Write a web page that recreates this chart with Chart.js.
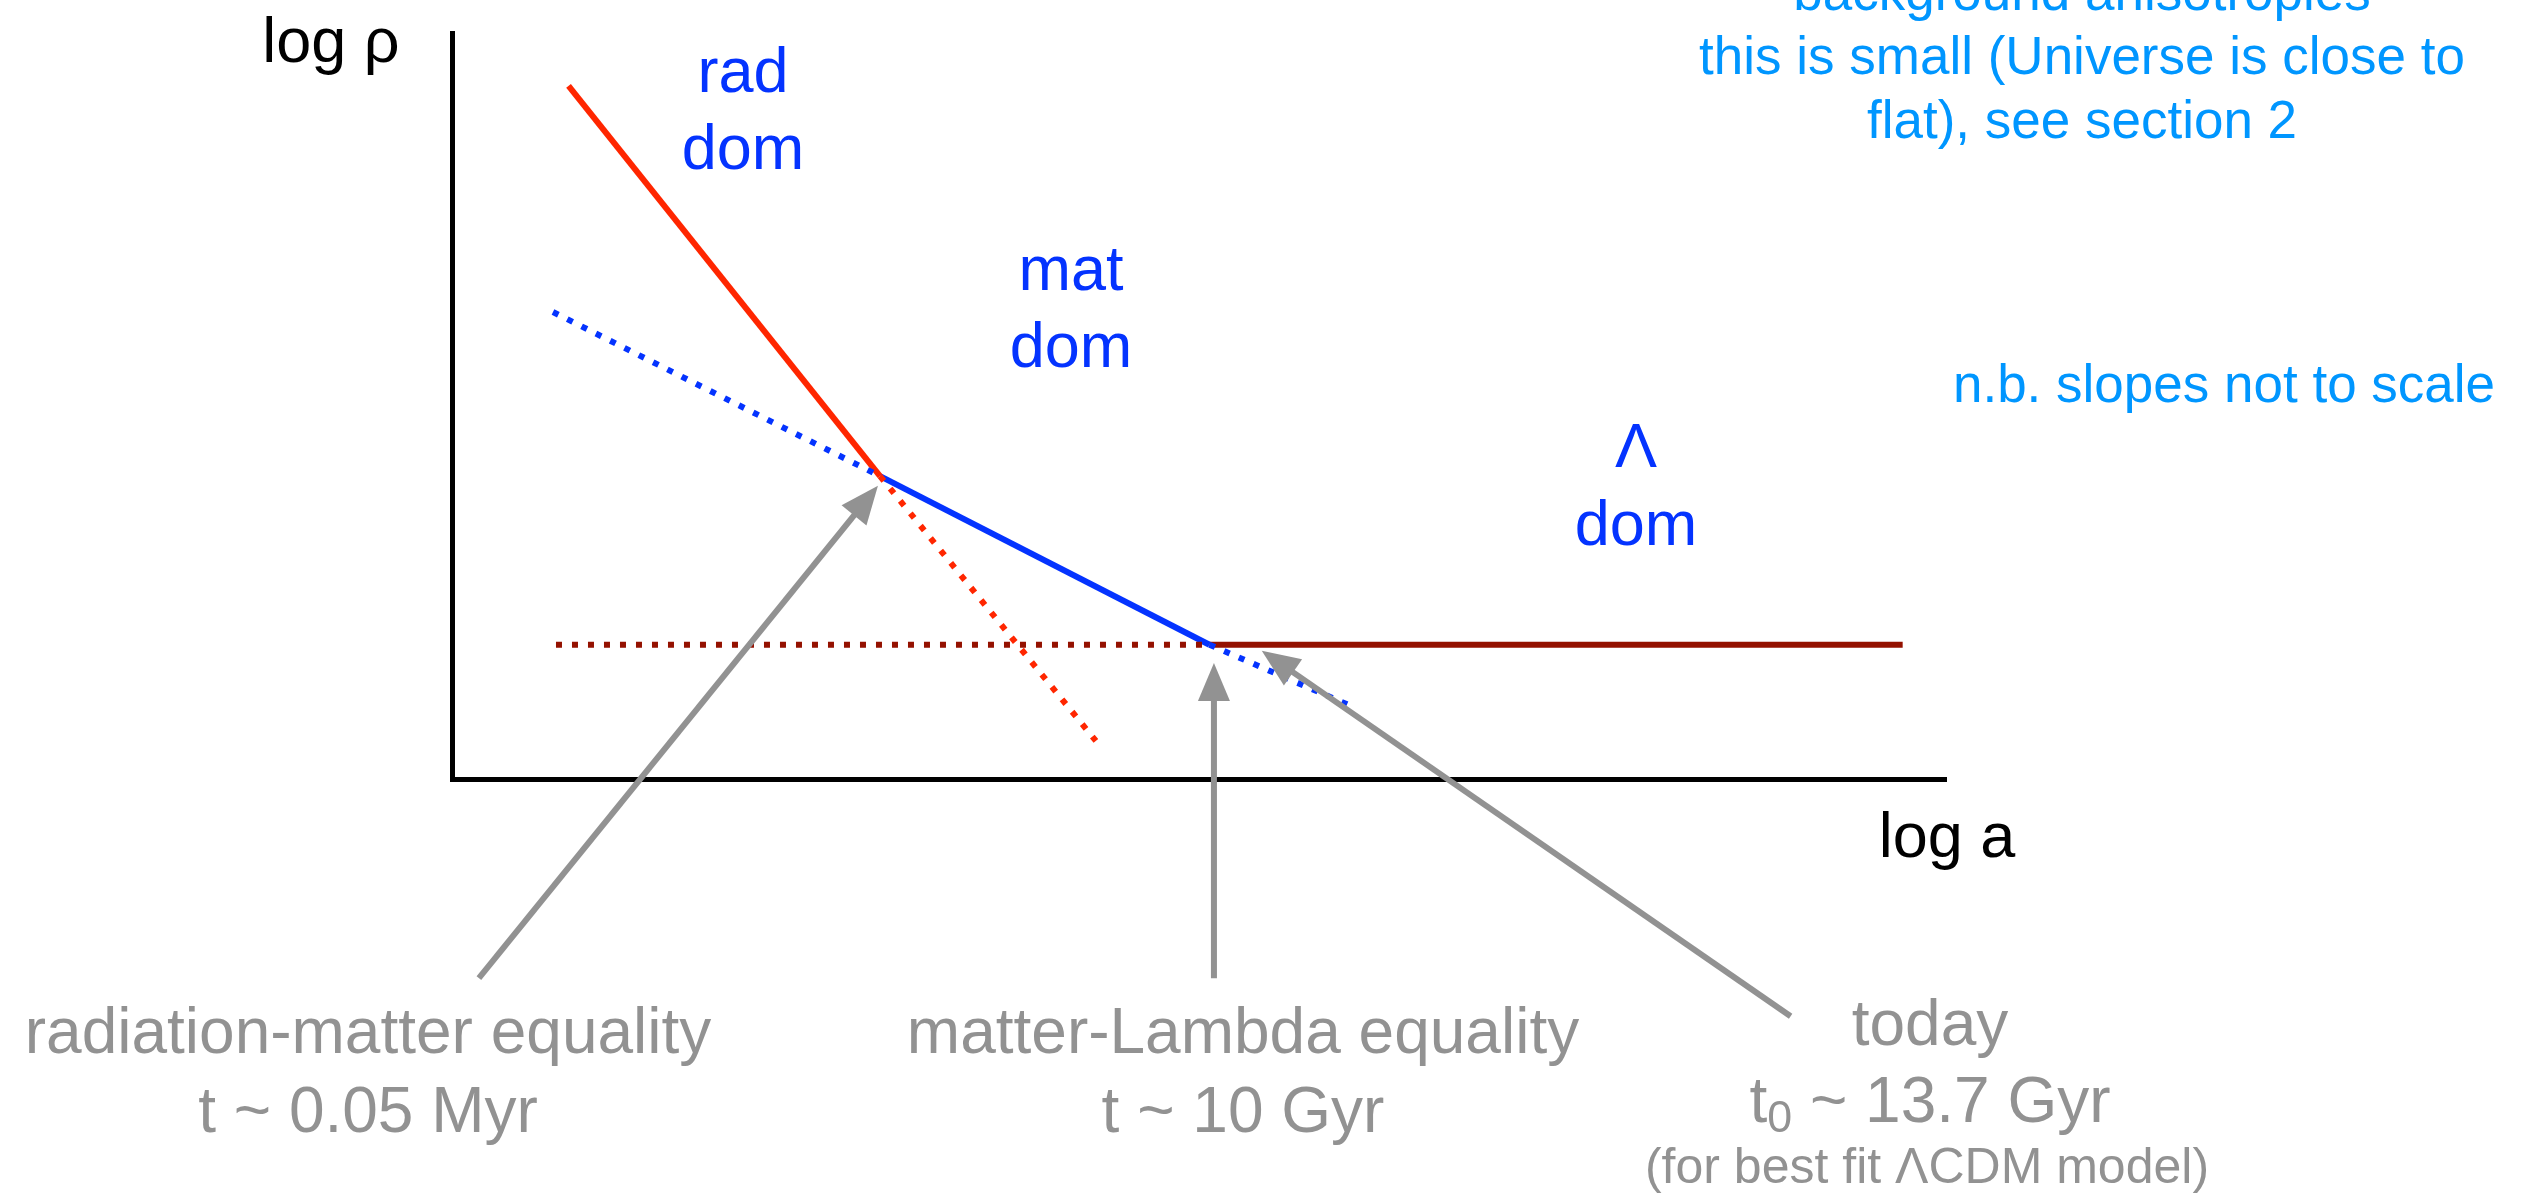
<!DOCTYPE html>
<html>
<head>
<meta charset="utf-8">
<title>log ρ vs log a</title>
<script src="https://cdn.jsdelivr.net/npm/chart.js@4.4.1/dist/chart.umd.min.js"></script>
<style>
  html, body { margin: 0; padding: 0; background: #fff; }
  canvas { display: block; }
</style>
</head>
<body>
<canvas id="chart" width="2536" height="1197"></canvas>
<script>
/* DATOS (unidades arbitrarias, log a / log rho) */
// radiacion: pendiente mas fuerte
const radX = [0.78, 2.865];
const radY = [9.29, 4.06];
const radExtX = [2.865, 4.31];
const radExtY = [4.06, 0.51];

// materia
const matBackX = [0.676, 2.865];
const matBackY = [6.26, 4.06];
const matX = [2.865, 5.07];
const matY = [4.06, 1.80];
const matExtX = [5.07, 6.05];
const matExtY = [1.80, 0.95];

// lambda: constante
const lamBackX = [0.696, 5.07];
const lamBackY = [1.80, 1.80];
const lamX = [5.07, 9.71];
const lamY = [1.80, 1.80];

// flechas (cola -> punta)
const arrowFromX = [0.18, 5.10, 8.96];
const arrowFromY = [-2.67, -2.67, -3.18];
const arrowToX = [2.851, 5.10, 5.42];
const arrowToY = [3.93, 1.555, 1.72];

const BLUE = "#0433ff";
const RED = "#ff2600";
const DARKRED = "#941100";
const GREY = "#929292";
const LIGHTBLUE = "#0096ff";
const FONT = "'Liberation Sans', Arial, Helvetica, sans-serif";

function pts(xs, ys) {
  return xs.map((x, i) => ({ x, y: ys[i] }));
}

function seg(xs, ys, color, dotted) {
  return {
    data: pts(xs, ys),
    borderColor: color,
    borderWidth: 6,
    borderDash: dotted ? [6, 10] : [],
    borderCapStyle: "butt",
    pointRadius: 0,
    tension: 0,
    fill: false,
    clip: false
  };
}

/* FLECHAS */
const arrowPlugin = {
  id: "arrows",
  afterDatasetsDraw(chart) {
    const { ctx } = chart;
    const xs = chart.scales.x, ys = chart.scales.y;
    const headLen = 38, headHalf = 16;
    ctx.save();
    ctx.strokeStyle = GREY;
    ctx.fillStyle = GREY;
    ctx.lineWidth = 6;
    for (let i = 0; i < arrowFromX.length; i++) {
      const x0 = xs.getPixelForValue(arrowFromX[i]);
      const y0 = ys.getPixelForValue(arrowFromY[i]);
      const x1 = xs.getPixelForValue(arrowToX[i]);
      const y1 = ys.getPixelForValue(arrowToY[i]);
      const len = Math.hypot(x1 - x0, y1 - y0);
      const ux = (x1 - x0) / len, uy = (y1 - y0) / len;
      const bx = x1 - ux * headLen, by = y1 - uy * headLen;
      ctx.beginPath();
      ctx.moveTo(x0, y0);
      ctx.lineTo(bx + ux * 2, by + uy * 2);
      ctx.stroke();
      ctx.beginPath();
      ctx.moveTo(x1, y1);
      ctx.lineTo(bx - uy * headHalf, by + ux * headHalf);
      ctx.lineTo(bx + uy * headHalf, by - ux * headHalf);
      ctx.closePath();
      ctx.fill();
    }
    ctx.restore();
  }
};

/* TEXTOS */
const notes = [
  { lines: [["log ρ"]], x: 331, y: 62, size: 63, color: "#000", gap: 0 },
  { lines: [["log a"]], x: 1947, y: 857, size: 63, color: "#000", gap: 0 },
  { lines: [["rad"], ["dom"]], x: 743, y: 92, size: 63, color: BLUE, gap: 77 },
  { lines: [["mat"], ["dom"]], x: 1071, y: 290, size: 63, color: BLUE, gap: 77 },
  { lines: [["Λ"], ["dom"]], x: 1636, y: 467, size: 63, color: BLUE, gap: 78 },
  { lines: [["background anisotropies"], ["this is small (Universe is close to"], ["flat), see section 2"]],
    x: 2082, y: 10, size: 53, color: LIGHTBLUE, gap: 64 },
  { lines: [["n.b. slopes not to scale"]], x: 2224, y: 402, size: 53, color: LIGHTBLUE, gap: 0 },
  { lines: [["radiation-matter equality"], ["t ~ 0.05 Myr"]], x: 368, y: 1053, size: 64, color: GREY, gap: 79 },
  { lines: [["matter-Lambda equality"], ["t ~ 10 Gyr"]], x: 1243, y: 1053, size: 64, color: GREY, gap: 79 },
  { lines: [["today"], ["t", "0", " ~ 13.7 Gyr"]], x: 1930, y: 1045, size: 64, color: GREY, gap: 77 },
  { lines: [["(for best fit ΛCDM model)"]], x: 1927, y: 1183, size: 50, color: GREY, gap: 0 }
];

const textPlugin = {
  id: "notes",
  afterDraw(chart) {
    const { ctx } = chart;
    ctx.save();
    ctx.textBaseline = "alphabetic";
    ctx.textAlign = "left";
    notes.forEach(n => {
      ctx.fillStyle = n.color;
      n.lines.forEach((parts, li) => {
        const base = n.y + li * n.gap;
        // partes: [texto, subindice, texto]
        const sizes = parts.map((p, k) => (k === 1 ? n.size * 0.7 : n.size));
        let total = 0;
        const widths = parts.map((p, k) => {
          ctx.font = `${sizes[k]}px ${FONT}`;
          const w = ctx.measureText(p).width;
          total += w;
          return w;
        });
        let x = n.x - total / 2;
        parts.forEach((p, k) => {
          ctx.font = `${sizes[k]}px ${FONT}`;
          ctx.fillText(p, x, k === 1 ? base + n.size * 0.15 : base);
          x += widths[k];
        });
      });
    });
    ctx.restore();
  }
};

/* GRAFICO */
const axisOpts = {
  type: "linear",
  min: 0,
  max: 10,
  ticks: { display: false },
  grid: { display: false, drawTicks: false },
  border: { display: true, color: "#000", width: 5 }
};

new Chart(document.getElementById("chart"), {
  type: "line",
  data: {
    datasets: [
      seg(lamBackX, lamBackY, DARKRED, true),
      seg(radExtX, radExtY, RED, true),
      seg(matBackX, matBackY, BLUE, true),
      seg(matExtX, matExtY, BLUE, true),
      seg(radX, radY, RED, false),
      seg(matX, matY, BLUE, false),
      seg(lamX, lamY, DARKRED, false)
    ]
  },
  options: {
    responsive: false,
    animation: false,
    devicePixelRatio: 1,
    layout: { padding: { left: 452, top: 33, right: 590, bottom: 418 } },
    scales: { x: axisOpts, y: axisOpts },
    plugins: {
      legend: { display: false },
      tooltip: { enabled: false }
    }
  },
  plugins: [arrowPlugin, textPlugin]
});
</script>
</body>
</html>
